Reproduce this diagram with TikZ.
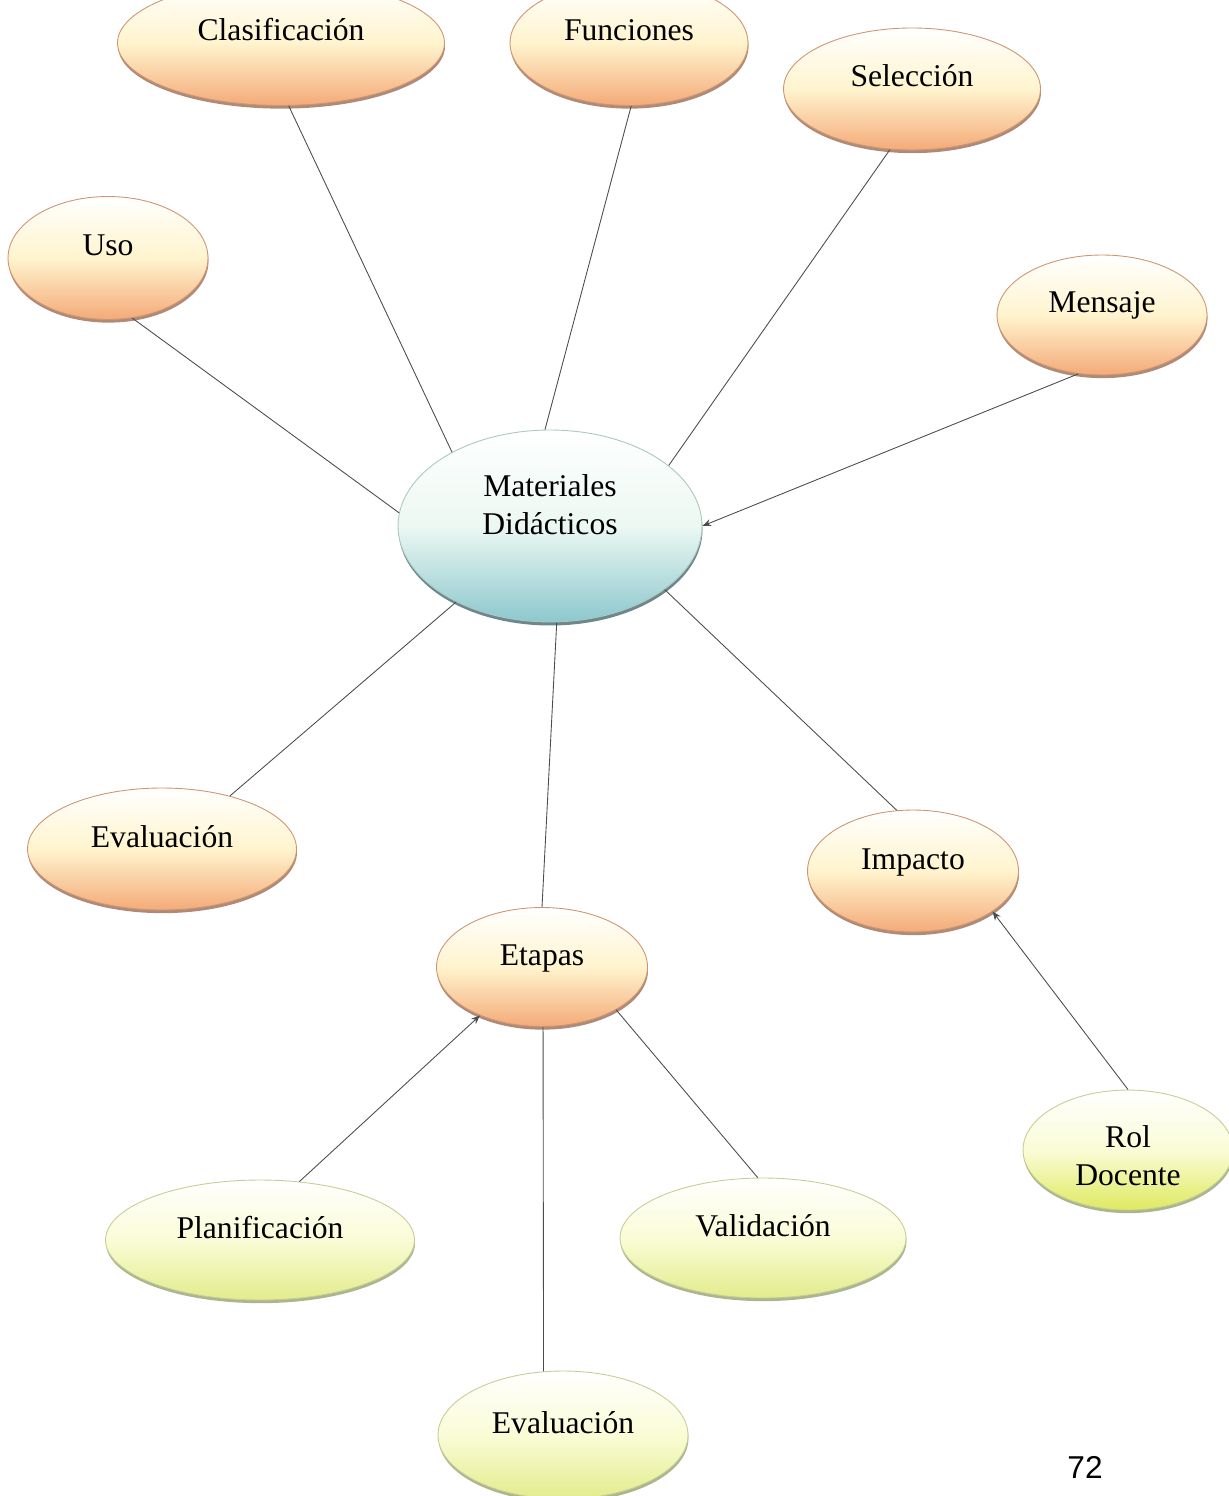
\documentclass[tikz,border=0pt]{standalone}
\usepackage{fontspec}
\setmainfont{Liberation Serif}
\newfontfamily\pagefont{Liberation Sans}
\usetikzlibrary{shapes.geometric,shadows,arrows.meta}

\definecolor{peach}{RGB}{244,170,120}
\definecolor{cream}{RGB}{255,244,206}
\definecolor{peachline}{RGB}{205,150,112}
\definecolor{peachshadow}{RGB}{120,60,30}
\definecolor{lime}{RGB}{226,236,140}
\definecolor{limecream}{RGB}{250,252,214}
\definecolor{limedark}{RGB}{222,234,96}
\definecolor{limeline}{RGB}{200,205,150}
\definecolor{limeshadow}{RGB}{90,110,30}
\definecolor{teal}{RGB}{140,200,206}
\definecolor{tealpale}{RGB}{236,248,242}
\definecolor{tealline}{RGB}{170,200,190}
\definecolor{tealshadow}{RGB}{30,70,80}

\begin{document}
\begin{tikzpicture}[x=0.02cm,y=-0.02cm,
  bubble/.style={ellipse,inner sep=0pt,line width=0.5pt,text height=0.5cm,text depth=0.58cm,
    font=\fontsize{18}{21.6}\selectfont,align=center},
  orangestyle/.style={bubble,draw=peachline,top color=white,bottom color=peach,middle color=cream,
    drop shadow={shadow xshift=0.3pt,shadow yshift=-1.8pt,fill=peachshadow,opacity=0.6}},
  greenstyle/.style={bubble,draw=limeline,top color=white,bottom color=lime,middle color=limecream,
    drop shadow={shadow xshift=0.3pt,shadow yshift=-1.8pt,fill=limeshadow,opacity=0.5}},
  link/.style={draw=black!70,line width=0.5pt},
  tip/.style={link,-{Stealth[length=5pt,width=4pt]}}]

\useasboundingbox (0,0) rectangle (1229,1496);

\node[ellipse,inner sep=0pt,line width=0.5pt,draw=tealline,top color=white,bottom color=teal,middle color=tealpale,
  drop shadow={shadow xshift=0.3pt,shadow yshift=-2pt,fill=tealshadow,opacity=0.65},
  minimum width=6.08cm,minimum height=3.84cm,text height=1.26cm,text depth=0.92cm,
  font=\fontsize{18}{21.6}\selectfont,align=center] (mat) at (550,526) {Materiales\\Didácticos};

\node[orangestyle,minimum width=6.54cm,minimum height=2.5cm] (cla) at (281,43) {Clasificación};
\node[orangestyle,minimum width=4.76cm,minimum height=2.5cm] (fun) at (629,43) {Funciones};
\node[orangestyle,minimum width=5.14cm,minimum height=2.44cm] (sel) at (912,89) {Selección};
\node[orangestyle,minimum width=4.0cm,minimum height=2.46cm] (uso) at (108,258) {Uso};
\node[orangestyle,minimum width=4.2cm,minimum height=2.4cm] (men) at (1102,315) {Mensaje};
\node[orangestyle,minimum width=5.38cm,minimum height=2.44cm] (evl) at (162,849) {Evaluación};
\node[orangestyle,minimum width=4.22cm,minimum height=2.44cm] (imp) at (913,871) {Impacto};
\node[orangestyle,minimum width=4.22cm,minimum height=2.38cm] (eta) at (542,967) {Etapas};

\node[greenstyle,bottom color=limedark,middle color=limecream,minimum width=4.2cm,minimum height=2.4cm,
  text height=1.42cm,text depth=0cm] (rol) at (1128,1150) {Rol\\Docente};
\node[greenstyle,minimum width=6.18cm,minimum height=2.4cm] (pla) at (260,1240) {Planificación};
\node[greenstyle,minimum width=5.72cm,minimum height=2.4cm] (val) at (763,1238) {Validación};
\node[greenstyle,minimum width=5.0cm,minimum height=2.56cm] (evb) at (563,1435) {Evaluación};

\node[font=\pagefont\fontsize{18}{20}\selectfont] (pag) at (1085,1467) {72};

% lines round the centre
\draw[link] (uso.-68) -- (mat.175);
\draw[link] (cla.-83) -- (mat.143);
\draw[link] (fun.-88) -- (mat.93);
\draw[link] (sel.-110) -- (mat.27);
\draw[tip] (men.-112) -- (mat.0);
\draw[link] (evl.38) -- (mat.-141);
\draw[link] (eta.90) -- (mat.-86);
\draw[link] (imp.105) -- (mat.-29);

% lower branches
\draw[tip] (pla.56) -- (eta.-142);
\draw[link] (eta.-89) -- (evb.107);
\draw[link] (eta.-30) -- (val.95);
\draw[tip] (rol.90) -- (imp.-27);

\end{tikzpicture}
\end{document}
